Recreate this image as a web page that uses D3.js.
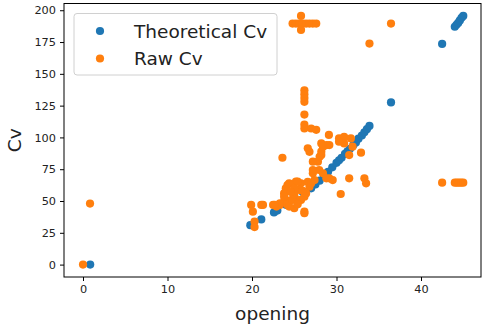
<!DOCTYPE html>
<html>
<head>
<meta charset="utf-8">
<script src="https://cdn.jsdelivr.net/npm/d3@7"></script>
<style>
  html, body { margin: 0; padding: 0; background: #fff; }
  svg { display: block; font-family: "DejaVu Sans", sans-serif; }
</style>
</head>
<body>
<svg id="chart" width="482" height="327"></svg>
<script>
// Theoretical valve flow coefficient vs. opening
const theoreticalOpening = [0.85, 19.8, 21.1, 22.6, 23.0, 24.0, 25.0, 26.0, 27.0, 27.5, 28.0, 28.5, 29.0, 29.5, 30.0, 30.3, 30.6, 31.0, 31.3, 31.6, 32.0, 32.3, 32.6, 33.0, 33.3, 33.6, 33.9, 36.45, 42.5, 44.0, 44.2, 44.4, 44.6, 44.8, 45.0];
const theoreticalCv      = [0,    31,   35.5, 41,   42.5, 47,   53,   57,   60,   63,   66,   70,   73,   76.5, 80,   82,   84,   87,   89,   91,   94,   96,   99,   101.5, 104, 106.5, 109, 127.5, 173.5, 187, 188.5, 190, 192, 194, 195.5];

// Measured (raw) flow coefficient vs. opening
const rawOpening = [
  0, 0.83,
  24.8, 25.2, 25.6, 26.0, 26.4, 26.8, 27.2, 27.6, 25.8, 25.8,
  36.45, 33.9,
  26.2, 26.2, 26.2, 26.2, 26.2, 26.2, 26.2, 27.0, 27.6,
  29.1, 30.3, 30.9, 31.7, 26.6, 23.6, 28.2, 28.8, 28.2, 29.15, 28.4, 30.9, 31.9, 31.5, 32.9, 30.3,
  26.8, 28.2, 27.8, 27.2, 28.0,
  31.5, 33.3, 33.5, 30.5, 28.4, 29.15, 29.55, 28.8, 27.95, 27.2, 27.2, 27.4,
  42.5, 44.0, 44.25, 44.5, 44.75, 45.0,
  24.2, 25.2, 25.8, 26.8, 26.2, 25.6, 24.6, 23.8, 23.8, 24.2, 23.3, 22.5, 22.9, 26.2, 26.2,
  24.0, 24.4, 25.4, 26.4, 25.8, 25.0, 24.4, 25.6, 24.8, 23.3, 23.8, 22.7,
  25.0, 25.0, 26.0, 26.6, 27.0, 24.6, 25.4,
  19.9, 21.1, 20.1, 20.3, 20.3, 21.3
];
const rawCv = [
  0, 48,
  189.5, 189.5, 189.5, 189.5, 189.5, 189.5, 189.5, 189.5, 195.5, 184.5,
  189.5, 173.8,
  137, 134, 131, 128, 118, 110, 107, 107, 106,
  102, 99.3, 100.5, 99.2, 91.4, 84, 88.8, 94, 95.3, 94, 92.7, 95.3, 92.7, 86.1, 88, 96.6,
  88.7, 86.1, 80.9, 80.9, 84.8,
  67.8, 67.8, 63.9, 55.5, 71.8, 67.8, 66.5, 67.8, 74.4, 71.8, 74.4, 66.5,
  64.4, 64.4, 64.4, 64.4, 64.4, 64.4,
  62.6, 65.2, 63.9, 61.2, 53.4, 50.8, 50.8, 56, 49.5, 46.9, 46.9, 46.9, 45.6, 41.6, 40.4,
  60, 63.9, 65.2, 56, 50.8, 44.3, 45.6, 58.7, 50.8, 48.2, 53.4, 46.9,
  60, 55, 58, 65, 64, 57, 47.5,
  46.9, 46.9, 41.6, 33.8, 29.5, 46.9
];

const xTicks = [0, 10, 20, 30, 40];
const yTicks = [0, 25, 50, 75, 100, 125, 150, 175, 200];
const seriesNames = ["Theoretical Cv", "Raw Cv"];
const seriesColors = ["#1f77b4", "#ff7f0e"];

const svg = d3.select("#chart");
const plot = { left: 64, right: 481, top: 3.5, bottom: 277 };

const x = d3.scaleLinear().domain([-2.25, 47.1]).range([plot.left, plot.right]);
const y = d3.scaleLinear().domain([-9.75, 205.3]).range([plot.bottom, plot.top]);

// points
const groups = [
  d3.zip(theoreticalOpening, theoreticalCv),
  d3.zip(rawOpening, rawCv)
];
groups.forEach((pts, i) => {
  svg.append("g")
    .selectAll("circle")
    .data(pts)
    .join("circle")
    .attr("cx", d => x(d[0]))
    .attr("cy", d => y(d[1]))
    .attr("r", 4.1)
    .attr("fill", seriesColors[i]);
});

// frame
svg.append("rect")
  .attr("x", plot.left).attr("y", plot.top)
  .attr("width", plot.right - plot.left).attr("height", plot.bottom - plot.top)
  .attr("fill", "none").attr("stroke", "#000").attr("stroke-width", 1);

// axes
const xAxis = svg.append("g")
  .attr("transform", `translate(0,${plot.bottom})`)
  .call(d3.axisBottom(x).tickValues(xTicks).tickSize(4).tickPadding(4));
const yAxis = svg.append("g")
  .attr("transform", `translate(${plot.left},0)`)
  .call(d3.axisLeft(y).tickValues(yTicks).tickSize(4).tickPadding(4));
[xAxis, yAxis].forEach(a => {
  a.select(".domain").remove();
  a.selectAll("text").attr("font-size", 11.3).attr("fill", "#222").attr("font-family", "DejaVu Sans");
  a.selectAll("line").attr("stroke", "#000");
});

// axis titles
svg.append("text")
  .attr("x", (plot.left + plot.right) / 2).attr("y", 320)
  .attr("text-anchor", "middle").attr("font-size", 18.5).attr("fill", "#222")
  .text("opening");
svg.append("text")
  .attr("transform", `translate(21,${(plot.top + plot.bottom) / 2}) rotate(-90)`)
  .attr("text-anchor", "middle").attr("font-size", 18.5).attr("fill", "#222")
  .text("Cv");

// legend
const legend = svg.append("g");
legend.append("rect")
  .attr("x", 74).attr("y", 13.5).attr("width", 203).attr("height", 61.5)
  .attr("rx", 3).attr("fill", "#fff").attr("fill-opacity", 0.8)
  .attr("stroke", "#d0d0d0").attr("stroke-width", 1);
seriesNames.forEach((name, i) => {
  const cy = 31 + i * 27.5;
  legend.append("circle").attr("cx", 100).attr("cy", cy).attr("r", 4.1).attr("fill", seriesColors[i]);
  legend.append("text").attr("x", 134).attr("y", cy + 6.5)
    .attr("font-size", 18.5).attr("fill", "#222").text(name);
});
</script>
</body>
</html>
